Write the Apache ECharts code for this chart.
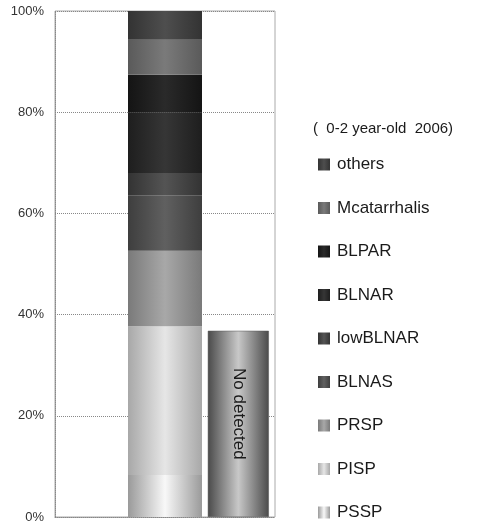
<!DOCTYPE html>
<html>
<head>
<meta charset="utf-8">
<script src="https://cdn.jsdelivr.net/npm/echarts@6/dist/echarts.min.js"></script>
<style>
  html, body { margin: 0; padding: 0; background: #fff; }
  #chart { width: 478px; height: 528px; }
</style>
</head>
<body>
<div id="chart"></div>
<script>
// Category slots: an empty spacer, the 2006 group and the "not detected" column
const categories = ['', '0-2 year-old 2006', 'No detected'];

// Share of isolates (%), stacked bottom to top
const seriesNames = ['PSSP', 'PISP', 'PRSP', 'BLNAS', 'lowBLNAR', 'BLNAR', 'BLPAR', 'Mcatarrhalis', 'others'];
const seriesValues = [8.3, 29.4, 14.9, 11.0, 4.4, 12.0, 7.4, 6.9, 5.7];
const noDetectedValue = 36.8;

const yTicks = [0, 20, 40, 60, 80, 100];
const legendTitle = '(  0-2 year-old  2006)';

// Grey cylinder-like shading per series: [edge, centre]
const shades = {
  PSSP: ['#9a9a9a', '#f8f8f8'],
  PISP: ['#a8a8a8', '#e6e6e6'],
  PRSP: ['#7a7a7a', '#a8a8a8'],
  BLNAS: ['#3e3e3e', '#606060'],
  lowBLNAR: ['#333333', '#545454'],
  BLNAR: ['#1e1e1e', '#363636'],
  BLPAR: ['#141414', '#2a2a2a'],
  Mcatarrhalis: ['#5a5a5a', '#7a7a7a'],
  others: ['#333333', '#4e4e4e']
};

function cylinder(edge, centre) {
  return new echarts.graphic.LinearGradient(0, 0, 1, 0, [
    { offset: 0, color: edge },
    { offset: 0.5, color: centre },
    { offset: 1, color: edge }
  ]);
}

const chart = echarts.init(document.getElementById('chart'), null, { renderer: 'canvas' });

const stackSeries = seriesNames.map((name, i) => ({
  name: name,
  type: 'bar',
  stack: 'total',
  xAxisIndex: 0,
  barWidth: 74,
  data: [null, seriesValues[i], null],
  itemStyle: { color: cylinder(shades[name][0], shades[name][1]) },
  emphasis: { disabled: true }
}));

const noDetectedSeries = {
  name: 'No detected',
  type: 'bar',
  xAxisIndex: 1,
  barWidth: 61,
  data: [null, null, noDetectedValue],
  itemStyle: {
    color: cylinder('#4a4a4a', '#c8c8c8'),
    borderColor: '#555',
    borderWidth: 0.5
  },
  label: {
    show: true,
    position: 'inside',
    rotate: -90,
    formatter: 'No detected',
    color: '#1a1a1a',
    fontSize: 17,
    fontFamily: 'Liberation Sans, Arial, sans-serif',
    offset: [-10, 0]
  },
  emphasis: { disabled: true }
};

chart.setOption({
  animation: false,
  backgroundColor: '#ffffff',
  title: {
    text: legendTitle,
    left: 308,
    top: 116,
    textStyle: {
      fontSize: 15,
      fontWeight: 'normal',
      color: '#1a1a1a',
      fontFamily: 'Liberation Sans, Arial, sans-serif'
    }
  },
  legend: {
    orient: 'vertical',
    left: 318,
    top: 156,
    height: 390,
    padding: 0,
    itemWidth: 12,
    itemHeight: 12,
    itemGap: 26.5,
    icon: 'rect',
    selectedMode: false,
    data: seriesNames.slice().reverse(),
    textStyle: {
      fontSize: 17,
      lineHeight: 16,
      color: '#1a1a1a',
      fontFamily: 'Liberation Sans, Arial, sans-serif',
      padding: [0, 0, 0, 2]
    }
  },
  grid: {
    left: 55,
    right: 203,
    top: 11,
    bottom: 11,
    show: true,
    borderColor: '#aaaaaa',
    borderWidth: 1,
    containLabel: false
  },
  xAxis: [
    {
      type: 'category',
      data: categories,
      axisLine: { show: true, lineStyle: { color: '#888', type: 'dotted' } },
      axisTick: { show: false },
      axisLabel: { show: false }
    },
    {
      type: 'category',
      data: categories,
      show: false
    }
  ],
  yAxis: {
    type: 'value',
    min: yTicks[0],
    max: yTicks[yTicks.length - 1],
    interval: 20,
    axisLine: { show: true, lineStyle: { color: '#888', type: 'dotted' } },
    axisTick: { show: false },
    axisLabel: {
      formatter: '{value}%',
      color: '#333',
      fontSize: 13,
      margin: 11,
      fontFamily: 'Liberation Sans, Arial, sans-serif'
    },
    splitLine: { show: true, lineStyle: { color: '#888', type: 'dotted' } }
  },
  series: stackSeries.concat([noDetectedSeries])
});
</script>
</body>
</html>
